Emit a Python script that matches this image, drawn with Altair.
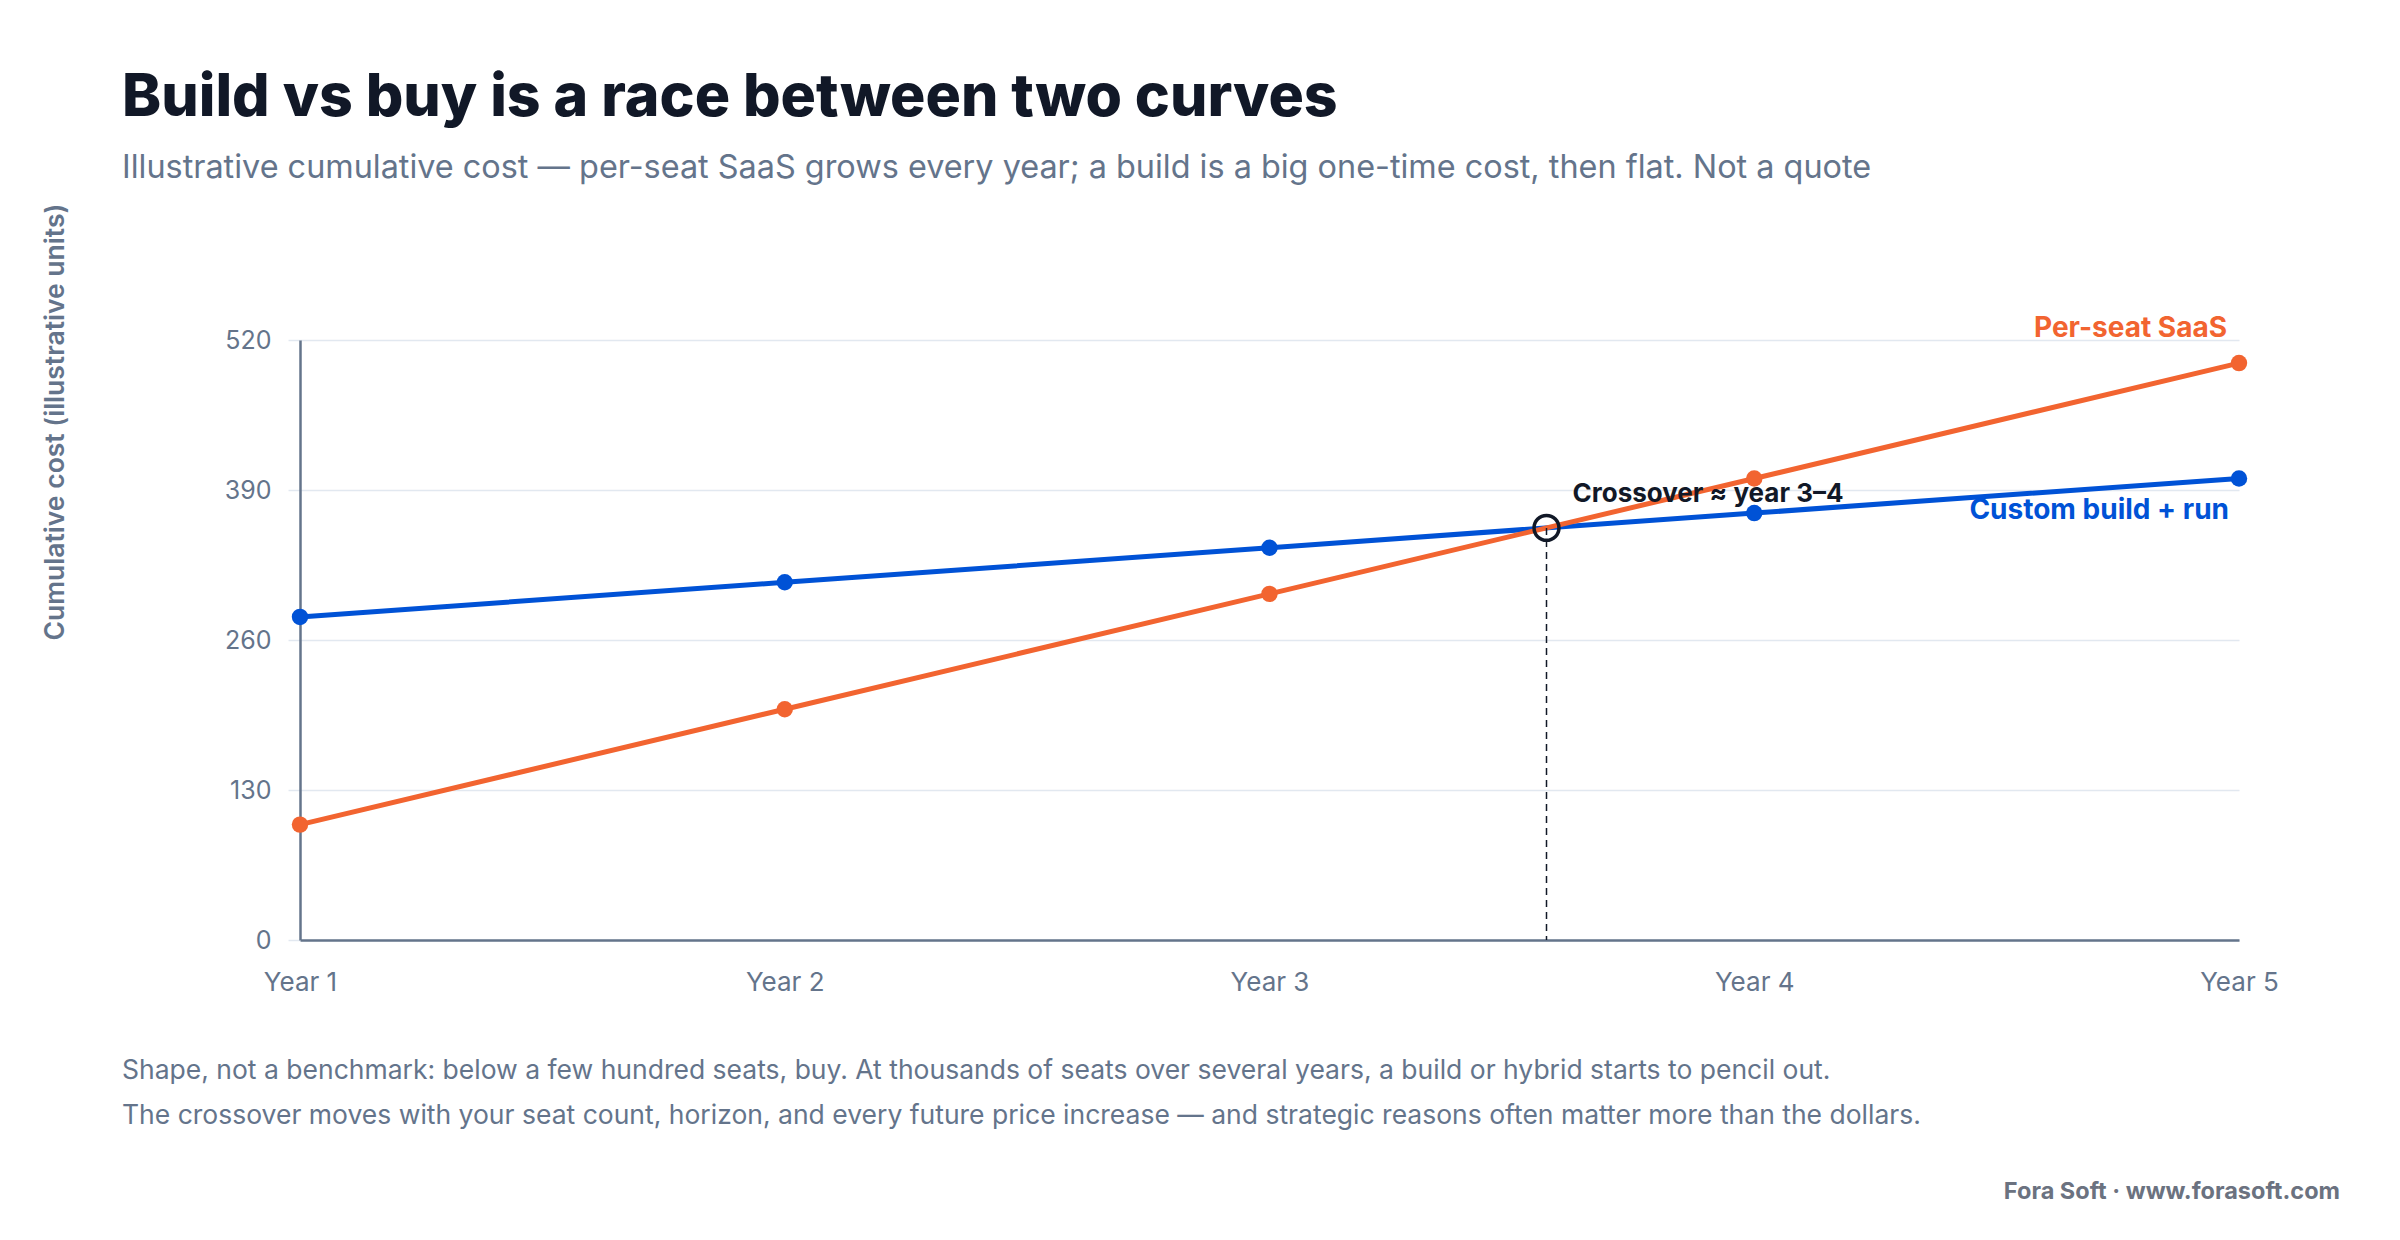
import altair as alt
import pandas as pd

# ---- data -------------------------------------------------------------
years = [1, 2, 3, 4, 5]
saas_cost = [100, 200, 300, 400, 500]
build_cost = [280, 310, 340, 370, 400]
y_ticks = [0, 130, 260, 390, 520]

SAAS_NAME = "Per-seat SaaS"
BUILD_NAME = "Custom build + run"
CROSS_LABEL = "Crossover ≈ year 3–4"
Y_TITLE = "Cumulative cost (illustrative units)"

TITLE = "Build vs buy is a race between two curves"
SUBTITLE = ("Illustrative cumulative cost — per-seat SaaS grows every year; "
            "a build is a big one-time cost, then flat. Not a quote")
FOOTER = [
    "Shape, not a benchmark: below a few hundred seats, buy. At thousands of seats "
    "over several years, a build or hybrid starts to pencil out.",
    "The crossover moves with your seat count, horizon, and every future price "
    "increase — and strategic reasons often matter more than the dollars.",
]
CREDIT = "Fora Soft · www.forasoft.com"

# ---- styling ----------------------------------------------------------
FONT = "Inter"
ORANGE = "#F26430"
BLUE = "#0052D6"
INK = "#111827"
SLATE = "#64748b"
GRID = "#e2e8f0"

W, H = 1939, 600
PAD = {"left": 300, "top": 340, "right": 2400 - 300 - W, "bottom": 1240 - 340 - H}

saas = pd.DataFrame({"year": years, "cost": saas_cost})
build = pd.DataFrame({"year": years, "cost": build_cost})

# where the two curves meet, between year 3 and year 4
i = 2
d0 = build_cost[i] - saas_cost[i]
d1 = build_cost[i + 1] - saas_cost[i + 1]
t = d0 / (d0 - d1)
cross = pd.DataFrame({
    "year": [years[i] + t],
    "cost": [saas_cost[i] + t * (saas_cost[i + 1] - saas_cost[i])],
    "label": [CROSS_LABEL],
})

x_enc = alt.X(
    "year:Q",
    scale=alt.Scale(domain=[1, 5], nice=False, zero=False),
    axis=alt.Axis(
        values=years, labelExpr="'Year ' + datum.value", title=None,
        grid=False, ticks=False, tickSize=0, labelPadding=29, labelFlush=False,
        labelFont=FONT, labelFontSize=26, labelColor=SLATE,
        domainColor=SLATE, domainWidth=2.5,
    ),
)
y_enc = alt.Y(
    "cost:Q",
    scale=alt.Scale(domain=[0, 520], nice=False),
    axis=alt.Axis(
        values=y_ticks, title=Y_TITLE,
        titleX=-245, titleY=300, titleAngle=270, titleAlign="left",
        titleBaseline="middle", titleFont=FONT, titleFontSize=26.5,
        titleFontWeight=600, titleColor=SLATE,
        labelFont=FONT, labelFontSize=25, labelColor=SLATE, labelPadding=17,
        tickSize=12, tickColor=GRID, tickWidth=1.5,
        gridColor=GRID, gridWidth=1.5,
        domainColor=SLATE, domainWidth=2.5,
    ),
)

def series(df, color):
    line = alt.Chart(df).mark_line(color=color, strokeWidth=5).encode(x=x_enc, y=y_enc)
    dots = alt.Chart(df).mark_circle(color=color, size=270, opacity=1).encode(x="year:Q", y="cost:Q")
    return line + dots

build_layer = series(build, BLUE)
saas_layer = series(saas, ORANGE)

drop = alt.Chart(cross).mark_rule(
    color=INK, strokeWidth=1.5, strokeDash=[7, 5]
).encode(x="year:Q", y="cost:Q", y2=alt.datum(0))

ring = alt.Chart(cross).mark_point(
    shape="circle", size=620, filled=False, stroke=INK, strokeWidth=3.5, opacity=1
).encode(x="year:Q", y="cost:Q")

cross_text = alt.Chart(cross).mark_text(
    align="left", baseline="middle", dx=26, dy=-34,
    font=FONT, fontSize=26, fontWeight="bold", color=INK,
).encode(x="year:Q", y="cost:Q", text="label:N")

saas_end = saas.tail(1).assign(name=SAAS_NAME)
build_end = build.tail(1).assign(name=BUILD_NAME)

saas_label = alt.Chart(saas_end).mark_text(
    align="right", baseline="middle", dx=-12, dy=-34,
    font=FONT, fontSize=28, fontWeight="bold", color=ORANGE,
).encode(x="year:Q", y="cost:Q", text="name:N")

build_label = alt.Chart(build_end).mark_text(
    align="right", baseline="middle", dx=-10, dy=33,
    font=FONT, fontSize=28, fontWeight="bold", color=BLUE,
).encode(x="year:Q", y="cost:Q", text="name:N")

# ---- headings and notes around the plot -------------------------------
def note(text, x, y, size, color, weight="normal", align="left"):
    return alt.Chart(pd.DataFrame({"t": [text]})).mark_text(
        align=align, baseline="alphabetic", font=FONT, fontSize=size,
        fontWeight=weight, color=color,
    ).encode(x=alt.value(x), y=alt.value(y), text="t:N")

title = note(TITLE, -178, -224, 59, INK, weight=800)
subtitle = note(SUBTITLE, -178, -162, 32.4, SLATE)
foot1 = note(FOOTER[0], -178, 739, 26.5, SLATE)
foot2 = note(FOOTER[1], -178, 784, 26.5, SLATE)
credit = note(CREDIT, 2040, 859, 23.5, "#6b7280", weight="bold", align="right")

chart = alt.layer(
    build_layer, saas_layer, drop, ring, cross_text, saas_label, build_label,
    title, subtitle, foot1, foot2, credit,
).properties(
    width=W, height=H,
    autosize=alt.AutoSizeParams(type="none"),
    padding=PAD,
    background="white",
).configure_view(stroke=None)

chart.save("out.html", embed_options={"renderer": "svg", "actions": False})
